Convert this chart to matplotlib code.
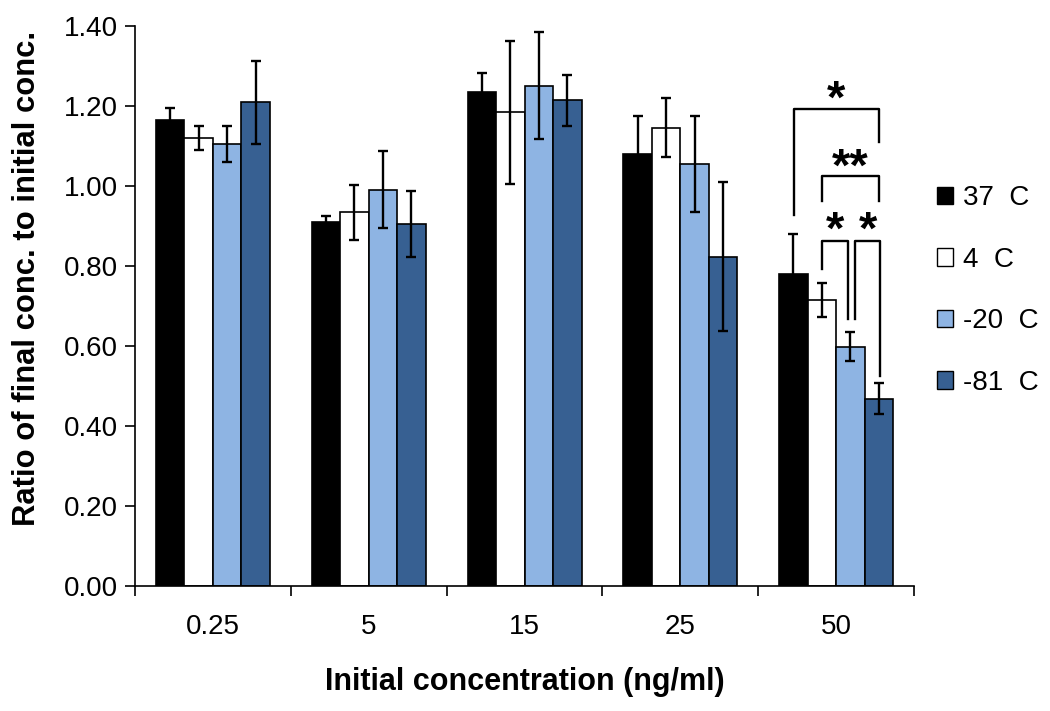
import matplotlib
matplotlib.use("Agg")
import matplotlib.pyplot as plt
import numpy as np

plt.rcParams['font.family'] = ['Liberation Sans', 'DejaVu Sans']

categories = ["0.25", "5", "15", "25", "50"]
series_names = ["37  C", "4  C", "-20  C", "-81  C"]
colors = ["#000000", "#FFFFFF", "#8EB4E3", "#376092"]

vals_37 = [1.165, 0.910, 1.235, 1.080, 0.780]
vals_4 = [1.118, 0.933, 1.183, 1.145, 0.715]
vals_m20 = [1.103, 0.990, 1.250, 1.055, 0.598]
vals_m81 = [1.208, 0.905, 1.213, 0.823, 0.468]

err_37 = [0.028, 0.013, 0.047, 0.093, 0.100]
err_4 = [0.030, 0.068, 0.178, 0.073, 0.043]
err_m20 = [0.045, 0.097, 0.133, 0.120, 0.036]
err_m81 = [0.104, 0.082, 0.063, 0.185, 0.038]

values = [vals_37, vals_4, vals_m20, vals_m81]
errors = [err_37, err_4, err_m20, err_m81]

fig = plt.figure(figsize=(10.5, 7.11), dpi=100)
ax = fig.add_axes([0.1286, 0.176, 0.7419, 0.788])

x = np.arange(len(categories))
w = 0.183
offsets = [-1.5 * w, -0.5 * w, 0.5 * w, 1.5 * w]
for i in range(4):
    ax.bar(x + offsets[i], values[i], width=w, color=colors[i],
           edgecolor="black", linewidth=1.2, label=series_names[i], zorder=2)
    ax.errorbar(x + offsets[i], values[i], yerr=errors[i], fmt="none",
                ecolor="black", elinewidth=1.7, capsize=3.4, capthick=1.7, zorder=3)

ax.set_xlim(-0.5, len(categories) - 0.5)
ax.set_ylim(0, 1.40)
yt = np.arange(0, 1.41, 0.2)
ax.set_yticks(yt)
ax.set_yticklabels([f"{v:.2f}" for v in yt])
ax.set_xticks(x)
ax.set_xticklabels(categories)
ax.set_xticks(np.arange(-0.5, len(categories), 1.0), minor=True)
ax.tick_params(axis="x", which="major", length=0, pad=20, labelsize=20)
ax.tick_params(axis="x", which="minor", length=7, width=1.2, direction="out")
ax.tick_params(axis="y", length=7, width=1.2, direction="out", labelsize=20, pad=5)

for s in ["top", "right"]:
    ax.spines[s].set_visible(False)
for s in ["left", "bottom"]:
    ax.spines[s].set_linewidth(1.2)

ax.set_xlabel("Initial concentration (ng/ml)", fontsize=22, fontweight="bold", labelpad=20)
fig.text(27 / 1050, 1 - 278 / 711, "Ratio of final conc. to initial conc.", rotation=90,
         ha="center", va="center", fontsize=22.3, fontweight="bold")

# significance brackets on the last group
g = 4
xb = [g + o for o in offsets]
lw = 1.7
def bracket(x1, x2, ytop, yl, yr, text, tx, ty):
    ax.plot([x1, x1, x2, x2], [yl, ytop, ytop, yr], color="black", lw=lw, zorder=4, clip_on=False)
    if text:
        ax.text(tx, ty, text, ha="center", va="baseline", fontsize=34, fontweight="bold", zorder=5)

bracket(xb[0] + 0.005, xb[3], 1.1925, 0.9275, 1.11, "*", (xb[0] + xb[3]) / 2, 1.182)
bracket(xb[1], xb[3], 1.025, 0.9625, 0.9625, "**", (xb[1] + xb[3]) / 2, 1.013)
bracket(xb[1], xb[2] - 0.015, 0.8625, 0.7925, 0.6675, "*", (xb[1] + xb[2]) / 2 - 0.005, 0.855)
bracket(xb[2] + 0.03, xb[3] + 0.005, 0.8625, 0.6675, 0.525, "*", (xb[2] + xb[3]) / 2 + 0.02, 0.855)

leg = ax.legend(loc="upper left", bbox_to_anchor=(1.015, 0.735), frameon=False,
                fontsize=20, handlelength=0.6, handleheight=0.6,
                handletextpad=0.35, labelspacing=1.28, borderaxespad=0)
for h in leg.legend_handles:
    h.set_linewidth(1.0)

fig.savefig("out.png", dpi=100)
